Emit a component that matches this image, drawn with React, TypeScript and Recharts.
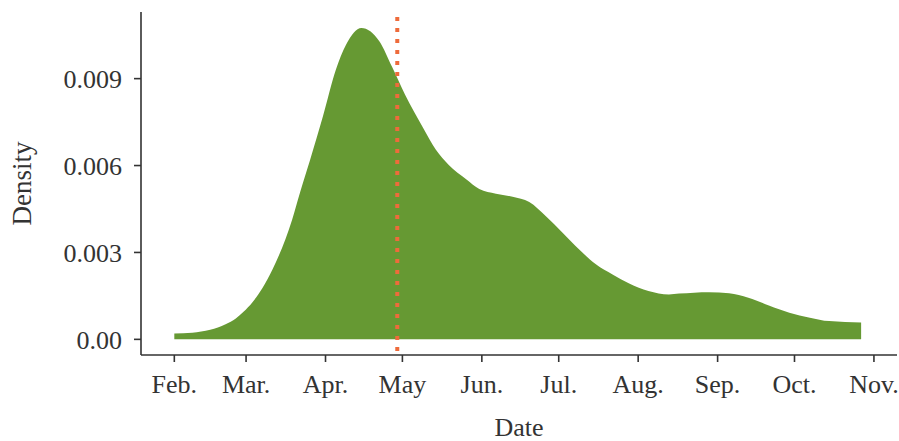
import React from 'react';
import { ComposedChart, Area, XAxis, YAxis, ReferenceLine } from 'recharts';

// Day of year (Jan 1 = 1) of each sampled point of the density curve
const dayOfYear = [32, 39, 46, 52, 56, 59, 62.5, 66.4, 70.3, 78, 81, 85, 90, 95, 99, 105, 112, 117, 122, 129, 134, 139, 146, 151, 157.5, 164, 170.5, 177, 183.5, 190, 196.5, 203, 209.5, 217, 225, 229, 240.7, 248.5, 256, 264, 272, 280, 287.5, 300];
// Density values at those days
const densityValues = [0.0002, 0.00023, 0.00033, 0.00052, 0.00072, 0.00095, 0.00128, 0.00177, 0.00241, 0.00414, 0.00505, 0.0062, 0.0077, 0.0093, 0.01017, 0.01075, 0.01029, 0.0094, 0.00845, 0.00731, 0.00655, 0.00603, 0.00552, 0.00519, 0.00503, 0.00492, 0.00474, 0.00425, 0.00368, 0.0031, 0.00259, 0.00224, 0.00193, 0.00167, 0.00155, 0.00158, 0.00163, 0.00159, 0.00144, 0.00117, 0.00092, 0.00075, 0.00063, 0.00058];

// Month ticks (first day of each month, day of year) and their labels
const monthTicks = [32, 60, 91, 121, 152, 182, 213, 244, 274, 305];
const monthLabels = ['Feb.', 'Mar.', 'Apr.', 'May', 'Jun.', 'Jul.', 'Aug.', 'Sep.', 'Oct.', 'Nov.'];

const densityTicks = [0, 0.003, 0.006, 0.009];

// Reference date (day of year) marked by the dotted line
const markerDay = [119];

const data = dayOfYear.map((d, i) => ({ day: d, density: densityValues[i] }));

const FONT = "'Liberation Serif', 'DejaVu Serif', serif";
const TEXT = '#333333';
const AXIS = '#333333';

const XTitle = (props: any) => {
  const vb = props.viewBox || {};
  const cx = vb.x + vb.width / 2;
  return (
    <text x={cx} y={436} textAnchor="middle" fill={TEXT} fontFamily={FONT} fontSize={26}>
      Date
    </text>
  );
};

const YTitle = (props: any) => {
  const vb = props.viewBox || {};
  const cy = vb.y + vb.height / 2;
  const cx = 31;
  return (
    <text
      x={cx}
      y={cy}
      transform={`rotate(-90, ${cx}, ${cy})`}
      textAnchor="middle"
      fill={TEXT}
      fontFamily={FONT}
      fontSize={27}
    >
      Density
    </text>
  );
};

export default function App() {
  return (
    <div style={{ position: 'absolute', left: 0, top: 0, background: '#ffffff' }}>
      <ComposedChart
        width={899}
        height={441}
        data={data}
        margin={{ top: 12, right: 2, bottom: 26, left: 0 }}
      >
        <XAxis
          dataKey="day"
          type="number"
          domain={[19, 314]}
          ticks={monthTicks}
          interval={0}
          allowDataOverflow
          tickFormatter={(v: number) => monthLabels[monthTicks.indexOf(v)] ?? ''}
          height={60}
          tickSize={7}
          tickMargin={13}
          axisLine={{ stroke: AXIS, strokeWidth: 1.6 }}
          tickLine={{ stroke: AXIS, strokeWidth: 1.6 }}
          tick={{ fill: TEXT, fontSize: 26, fontFamily: FONT }}
          label={<XTitle />}
        />
        <YAxis
          type="number"
          domain={[-0.00054, 0.0113]}
          ticks={densityTicks}
          interval={0}
          allowDataOverflow
          tickFormatter={(v: number) => (v === 0 ? '0.00' : v.toFixed(3))}
          width={141}
          tickSize={7}
          tickMargin={12}
          axisLine={{ stroke: AXIS, strokeWidth: 1.6 }}
          tickLine={{ stroke: AXIS, strokeWidth: 1.6 }}
          tick={{ fill: TEXT, fontSize: 26, fontFamily: FONT }}
          label={<YTitle />}
        />
        <Area
          type="monotone"
          dataKey="density"
          fill="#669933"
          fillOpacity={1}
          stroke="none"
          baseValue={0}
          dot={false}
          activeDot={false}
          isAnimationActive={false}
        />
        {markerDay.map((d) => (
          <ReferenceLine
            key={d}
            x={d}
            stroke="#EE6B3B"
            strokeWidth={4}
            strokeDasharray="4 7"
            strokeDashoffset={-4}
          />
        ))}
      </ComposedChart>
    </div>
  );
}
